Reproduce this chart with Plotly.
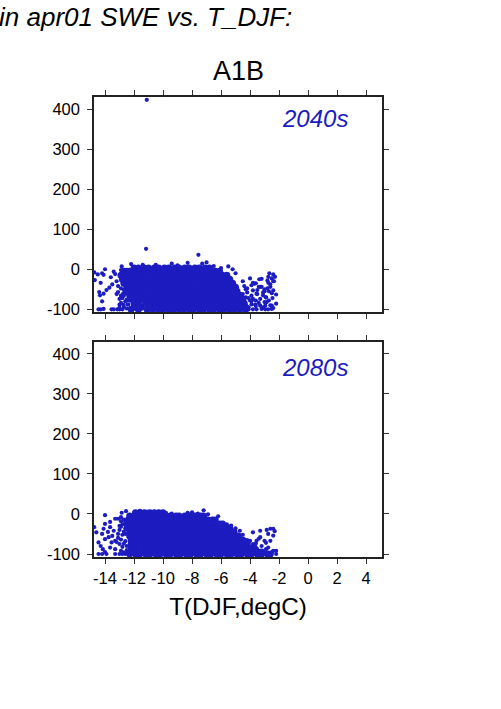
import plotly.graph_objects as go

W, H = 501, 709
BLUE = "#1c1cc0"
FONT = "Liberation Sans"

x_tick_vals = [-14, -12, -10, -8, -6, -4, -2, 0, 2, 4]
x_tick_text = ["-14", "-12", "-10", "-8", "-6", "-4", "-2", "0", "2", "4"]
y_tick_vals = [-100, 0, 100, 200, 300, 400]
y_tick_text = ["-100", "0", "100", "200", "300", "400"]

# 2040s: dense part of the cloud, read row by row (SWE change level, then T_DJF values)
dense_40_levels = [3, -5, -15, -25, -35, -45, -55, -65, -75, -85, -95, -100]
dense_40_temps = [
    [-12.0, -11.7, -11.3, -11.0, -10.6, -10.3, -9.9, -9.6, -9.2, -8.9, -8.5, -8.2, -7.8, -7.5, -7.1, -6.8],
    [-12.7, -12.5, -12.3, -12.0, -11.6, -11.3, -10.9, -10.6, -10.2, -9.9, -9.5, -9.2, -8.8, -8.5, -8.1, -7.8, -7.4, -7.1, -6.7, -6.4, -6.1],
    [-12.9, -12.7, -12.5, -12.1, -11.8, -11.4, -11.1, -10.7, -10.4, -10.0, -9.7, -9.3, -9.0, -8.6, -8.3, -7.9, -7.6, -7.2, -6.9, -6.5, -6.2, -5.9, -5.6],
    [-12.8, -12.6, -12.3, -11.9, -11.6, -11.2, -10.9, -10.5, -10.2, -9.8, -9.5, -9.1, -8.8, -8.4, -8.1, -7.7, -7.4, -7.0, -6.7, -6.3, -6.0, -5.7, -5.4],
    [-12.7, -12.5, -12.1, -11.8, -11.4, -11.1, -10.7, -10.4, -10.0, -9.7, -9.3, -9.0, -8.6, -8.3, -7.9, -7.6, -7.2, -6.9, -6.5, -6.2, -5.8, -5.5, -5.2],
    [-12.5, -12.3, -12.0, -11.6, -11.3, -10.9, -10.6, -10.2, -9.9, -9.5, -9.2, -8.8, -8.5, -8.1, -7.8, -7.4, -7.1, -6.7, -6.4, -6.0, -5.7, -5.3, -5.0],
    [-12.4, -12.1, -11.8, -11.4, -11.1, -10.7, -10.4, -10.0, -9.7, -9.3, -9.0, -8.6, -8.3, -7.9, -7.6, -7.2, -6.9, -6.5, -6.2, -5.8, -5.5, -5.2, -4.9],
    [-12.3, -11.9, -11.6, -11.2, -10.9, -10.5, -10.2, -9.8, -9.5, -9.1, -8.8, -8.4, -8.1, -7.7, -7.4, -7.0, -6.7, -6.3, -6.0, -5.6, -5.3, -5.0, -4.7],
    [-12.2, -11.8, -11.4, -11.0, -10.7, -10.3, -10.0, -9.6, -9.3, -8.9, -8.6, -8.2, -7.9, -7.5, -7.2, -6.8, -6.5, -6.1, -5.8, -5.4, -5.1, -4.7, -4.5],
    [-12.0, -11.7, -11.2, -10.8, -10.5, -10.1, -9.8, -9.4, -9.1, -8.7, -8.4, -8.0, -7.7, -7.3, -7.0, -6.6, -6.3, -5.9, -5.6, -5.2, -4.9, -4.6, -4.4],
    [-12.0, -11.5, -10.9, -10.5, -10.2, -9.8, -9.5, -9.1, -8.8, -8.4, -8.1, -7.7, -7.4, -7.0, -6.7, -6.3, -6.0, -5.6, -5.3, -4.9, -4.6, -4.3],
    [-12.2, -11.7, -11.1, -10.7, -10.3, -10.0, -9.6, -9.3, -8.9, -8.6, -8.2, -7.9, -7.5, -7.2, -6.8, -6.5, -6.1, -5.8, -5.4, -5.1, -4.7, -4.3],
]
# 2040s: scattered points around the dense part
sparse_40_t = [-11.12, -11.17, -7.56, -14.74, -14.5, -14.7, -14.3, -14.2, -14.0, -14.1, -14.4, -14.35, -14.2, -14.1, -13.9, -13.7,
               -14.45, -14.3, -14.1, -13.55, -13.4, -13.15, -13.0, -12.8, -13.0, -12.75, -12.45, -13.0, -13.1, -12.75, -13.4, -12.85, -12.2,
               -13.6, -13.3, -13.5, -13.2, -12.9, -11.4, -10.5, -9.4, -9.0, -8.3, -7.3, -7.0, -6.5, -6.0, -5.5, -5.2, -5.0,
               -4.0, -3.36, -3.2, -2.67, -2.74, -2.4, -2.28, -2.5, -3.8, -3.4, -3.2, -2.74, -2.6, -2.8, -2.2, -2.4, -3.1, -3.55, -3.8,
               -4.0, -3.8, -3.3, -2.85, -2.2, -2.5, -2.95, -3.3, -3.65, -3.9, -3.2, -2.95, -2.75, -2.5, -2.4, -3.55, -3.8, -4.1,
               -4.5, -4.4, -4.3, -4.5, -4.3, -4.2, -4.5, -4.3, -3.6, -3.0, -2.9,
               -13.1, -12.9, -12.7, -12.5, -13.2, -12.9, -12.6, -12.8, -12.5, -12.9, -12.6, -12.4, -13.0, -12.7, -12.4, -12.7, -12.5,
               -3.9, -3.7, -3.5, -3.3, -3.0, -2.8, -2.6, -2.4, -3.9, -3.5, -3.1, -2.9, -2.7, -2.5, -4.2, -4.1, -3.9, -3.6, -3.4, -3.0, -2.7, -2.45, -4.1, -3.6, -3.1, -2.6, -2.35]
sparse_40_v = [423, 51, 36, -8, -13, -27, -34, -10, 0, -14, -57, -65, -80, -61, -52, -46,
               -100, -100, -99, -100, -100, -100, -100, -100, -88, -88, -88, -74, -57, -61, -6, 7, 13,
               -20, -12, -38, -30, -2, 11, 11, 14, 10, 16, 14, 17, 8, 3, 7, 0, -10,
               -23, -25, -24, -10, -19, -13, -19, -23, -34, -44, -44, -34, -44, -48, -63, -53, -65, -61, -53,
               -78, -74, -74, -82, -86, -91, -91, -91, -88, -88, -99, -100, -100, -99, -97, -100, -100, -100,
               -30, -42, -50, -62, -70, -58, -80, -90, -35, -55, -70,
               -42, -48, -52, -50, -62, -66, -60, -72, -76, -84, -80, -88, -96, -94, -78, -66, -98,
               -40, -36, -52, -44, -50, -28, -38, -30, -66, -62, -58, -70, -55, -60, -48, -72, -80, -92, -84, -82, -78, -72, -95, -78, -95, -90, -30]

# 2080s: dense part of the cloud, read row by row
dense_80_levels = [3, -5, -15, -25, -35, -45, -55, -65, -75, -85, -95, -100]
dense_80_temps = [
    [-11.9, -11.6, -11.3, -10.9, -10.6, -10.3, -10.0],
    [-12.3, -12.0, -11.6, -11.3, -10.9, -10.5, -10.2, -9.8, -9.5, -9.1, -8.9, -8.5, -8.1, -7.8, -7.4, -7.2],
    [-12.4, -12.1, -11.8, -11.4, -11.1, -10.7, -10.4, -10.0, -9.7, -9.3, -9.0, -8.6, -8.3, -7.9, -7.6, -7.2, -6.9, -6.6, -6.4],
    [-12.5, -12.1, -11.7, -11.4, -11.0, -10.7, -10.3, -10.0, -9.6, -9.3, -8.9, -8.6, -8.2, -7.9, -7.5, -7.2, -6.8, -6.5, -6.1, -5.9],
    [-12.4, -12.1, -11.8, -11.4, -11.1, -10.7, -10.4, -10.0, -9.7, -9.3, -9.0, -8.6, -8.3, -7.9, -7.6, -7.2, -6.9, -6.5, -6.2, -5.8, -5.6, -5.4],
    [-12.3, -12.1, -11.7, -11.4, -11.0, -10.7, -10.3, -10.0, -9.6, -9.3, -8.9, -8.6, -8.2, -7.9, -7.5, -7.2, -6.8, -6.5, -6.1, -5.8, -5.4, -5.1],
    [-12.3, -12.0, -11.6, -11.3, -10.9, -10.6, -10.2, -9.9, -9.5, -9.2, -8.8, -8.5, -8.1, -7.8, -7.4, -7.1, -6.7, -6.4, -6.0, -5.7, -5.3, -5.0, -4.8],
    [-12.2, -12.0, -11.7, -11.3, -11.0, -10.6, -10.3, -9.9, -9.6, -9.2, -8.9, -8.5, -8.2, -7.8, -7.5, -7.1, -6.8, -6.4, -6.1, -5.7, -5.4, -5.0, -4.7, -4.5],
    [-12.2, -11.9, -11.5, -11.2, -10.8, -10.5, -10.1, -9.8, -9.4, -9.1, -8.7, -8.4, -8.0, -7.7, -7.3, -7.0, -6.6, -6.3, -5.9, -5.6, -5.2, -4.9, -4.5, -4.2],
    [-12.2, -11.9, -11.6, -11.2, -10.9, -10.5, -10.2, -9.8, -9.5, -9.1, -8.8, -8.4, -8.1, -7.7, -7.4, -7.0, -6.7, -6.3, -6.0, -5.6, -5.3, -4.9, -4.6, -4.2, -3.9, -3.7],
    [-12.2, -11.9, -11.5, -11.2, -10.8, -10.5, -10.1, -9.8, -9.4, -9.1, -8.7, -8.4, -8.0, -7.7, -7.3, -7.0, -6.6, -6.3, -5.9, -5.6, -5.2, -4.9, -4.5, -4.2, -3.8, -3.5, -3.2],
    [-12.3, -11.9, -11.6, -11.2, -10.9, -10.5, -10.2, -9.8, -9.5, -9.1, -8.8, -8.4, -8.1, -7.7, -7.4, -7.0, -6.7, -6.3, -6.0, -5.6, -5.3, -4.9, -4.6, -4.2, -3.9, -3.5, -3.2, -2.8, -2.6],
]
# 2080s: scattered points around the dense part
sparse_80_t = [-14.75, -14.6, -14.45, -14.3, -14.15, -14.0, -14.2, -14.1, -14.0, -13.65, -13.3, -13.1, -13.8, -13.65, -13.4, -13.75, -13.55, -13.3, -13.1, -13.0, -13.3, -13.65,
               -14.45, -14.2, -13.9, -13.3, -13.0, -14.0, -12.85, -12.55, -11.6, -11.1, -10.2, -9.8, -9.1, -8.3, -7.2, -6.9, -6.2, -5.85, -5.3, -4.7, -4.2, -4.0,
               -3.8, -3.3, -2.85, -2.6, -2.4, -2.3, -2.75, -2.4, -3.3, -3.0, -3.55, -2.6, -3.8, -3.2, -2.75, -2.4, -2.2, -2.2, -13.0, -13.5, -14.0, -12.9, -9.4, -8.0, -7.6, -6.6, -5.6, -5.0, -4.5,
               -3.6, -3.5, -3.1, -2.9, -4.1, -3.4, -2.5, -2.9,
               -12.9, -12.7, -12.6, -12.8, -12.9, -12.6, -12.7, -13.0, -12.8, -12.6, -13.1, -12.9, -12.6, -12.7, -12.5, -12.8, -12.5, -12.7, -12.9, -12.6, -13.2, -12.8, -12.5]
sparse_80_v = [-33, -46, -71, -80, -88, -63, -50, -37, -25, -20, -12, -12, -45, -33, -42, -58, -71, -67, -50, -75, -88, -84,
               -100, -100, -100, -100, -100, -3, 3, 7, 8, 6, 5, 3, -3, 3, 9, -1, -6, -22, -29, -42, -65, -67,
               -46, -42, -40, -37, -37, -43, -50, -54, -58, -67, -67, -67, -75, -80, -84, -92, -92, -100, -30, -55, -95, -18, 1, 4, 1, -12, -26, -36, -52,
               -74, -88, -95, -72, -72, -62, -96, -88,
               -8, -14, -20, -26, -32, -36, -44, -40, -52, -50, -60, -64, -68, -74, -80, -82, -90, -96, -92, -100, -70, -100, -98]


def flatten(levels, temps):
    t_out, v_out = [], []
    for level, row in zip(levels, temps):
        t_out += row
        v_out += [level] * len(row)
    return t_out, v_out


fig = go.Figure()
panels = [
    ("", "", dense_40_levels, dense_40_temps, sparse_40_t, sparse_40_v),
    ("2", "2", dense_80_levels, dense_80_temps, sparse_80_t, sparse_80_v),
]
for xa, ya, levels, temps, st, sv in panels:
    dt, dv = flatten(levels, temps)
    fig.add_trace(go.Scatter(x=dt, y=dv, mode="markers", xaxis="x" + xa, yaxis="y" + ya, showlegend=False,
                             marker=dict(color=BLUE, size=7, line=dict(width=0))))
    fig.add_trace(go.Scatter(x=st, y=sv, mode="markers", xaxis="x" + xa, yaxis="y" + ya, showlegend=False,
                             marker=dict(color=BLUE, size=4.2, line=dict(width=0))))


def xdom():
    return [94 / W, 382 / W]


def common(**kw):
    d = dict(showgrid=False, zeroline=False, showline=True, mirror="ticks", linecolor="#222222", linewidth=1.5,
             ticks="outside", ticklen=5, tickwidth=1, tickcolor="#333333", automargin=False,
             tickfont=dict(family=FONT, size=16.5, color="black"))
    d.update(kw)
    return d


fig.update_layout(
    width=W, height=H, autosize=False, margin=dict(l=0, r=0, t=0, b=0),
    paper_bgcolor="white", plot_bgcolor="white",
    xaxis=common(domain=xdom(), anchor="y", range=[-14.76, 5.1], tickvals=x_tick_vals, ticktext=x_tick_text, showticklabels=False),
    yaxis=common(domain=[1 - 312.3 / H, 1 - 97 / H], anchor="x", range=[-107.5, 430], tickvals=y_tick_vals, ticktext=y_tick_text, ticklabelstandoff=4),
    xaxis2=common(domain=xdom(), anchor="y2", range=[-14.76, 5.1], tickvals=x_tick_vals, ticktext=x_tick_text,
                  title=dict(text="T(DJF,degC)", font=dict(family=FONT, size=24.3, color="black"), standoff=12)),
    yaxis2=common(domain=[1 - 557 / H, 1 - 341.7 / H], anchor="x2", range=[-107.5, 430], tickvals=y_tick_vals, ticktext=y_tick_text, ticklabelstandoff=4),
    annotations=[
        dict(text="<i>in apr01 SWE vs. T_DJF:</i>", xref="paper", yref="paper", x=-3 / W, y=1 - 17 / H, xanchor="left", yanchor="middle",
             showarrow=False, font=dict(family=FONT, size=26, color="black")),
        dict(text="A1B", xref="paper", yref="paper", x=238 / W, y=1 - 71 / H, xanchor="center", yanchor="middle",
             showarrow=False, font=dict(family=FONT, size=27, color="black")),
        dict(text="<i>2040s</i>", xref="paper", yref="paper", x=350 / W, y=1 - 119 / H, xanchor="right", yanchor="middle",
             showarrow=False, font=dict(family=FONT, size=24, color=BLUE)),
        dict(text="<i>2080s</i>", xref="paper", yref="paper", x=350 / W, y=1 - 367 / H, xanchor="right", yanchor="middle",
             showarrow=False, font=dict(family=FONT, size=24, color=BLUE)),
    ],
)
fig.write_html("out.html", config={"displayModeBar": False},
               post_script="document.body.style.margin='0';")
